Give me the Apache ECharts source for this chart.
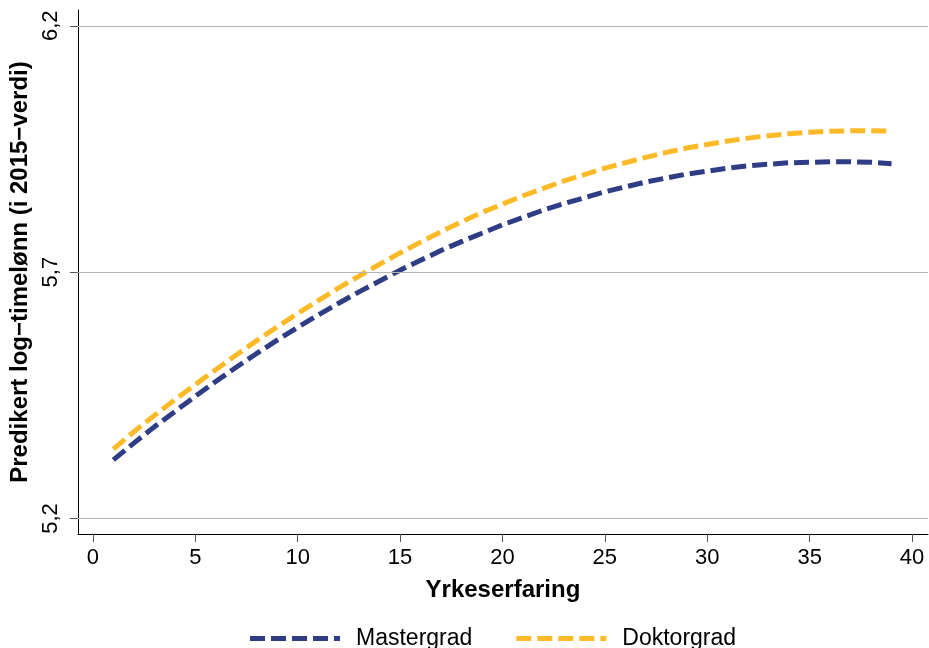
<!DOCTYPE html>
<html>
<head>
<meta charset="utf-8">
<script src="https://cdn.jsdelivr.net/npm/echarts@6/dist/echarts.min.js"></script>
<style>html,body{margin:0;padding:0;background:#fff}#c{width:929px;height:648px}</style>
</head>
<body>
<div id="c"></div>
<script>
const experience = [1,2,3,4,5,6,7,8,9,10,11,12,13,14,15,16,17,18,19,20,21,22,23,24,25,26,27,28,29,30,31,32,33,34,35,36,37,38,39];
const mastergrad = [5.319,5.353,5.386,5.417,5.448,5.478,5.507,5.535,5.562,5.588,5.613,5.637,5.660,5.682,5.704,5.724,5.744,5.762,5.779,5.796,5.811,5.826,5.839,5.851,5.863,5.873,5.883,5.891,5.899,5.905,5.911,5.916,5.919,5.922,5.923,5.924,5.924,5.923,5.920];
const doktorgrad = [5.341,5.376,5.409,5.441,5.472,5.502,5.532,5.561,5.589,5.616,5.642,5.668,5.692,5.716,5.739,5.761,5.782,5.802,5.821,5.838,5.855,5.870,5.885,5.898,5.911,5.922,5.933,5.943,5.952,5.959,5.966,5.972,5.977,5.981,5.984,5.986,5.987,5.987,5.986];
const xTicks = [0,5,10,15,20,25,30,35,40];
const yTicks = [5.2,5.7,6.2];
const seriesNames = ['Mastergrad','Doktorgrad'];
const colors = ['#2E3D86','#FDBA28'];

const font = 'Liberation Sans, Arial, Helvetica, sans-serif';
const dashIcon = 'path://M0,0h15v5h-15z M21,0h15v5h-15z M42,0h15v5h-15z M63,0h15v5h-15z M84,0h6v5h-6z';
const chart = echarts.init(document.getElementById('c'), null, {renderer:'canvas'});
const pair = (xs, ys) => xs.map((x,i)=>[x, ys[i]]);
chart.setOption({
  animation:false,
  backgroundColor:'#fff',
  grid:{left:77, right:1, top:10, bottom:114, containLabel:false},
  legend:{
    data:seriesNames.map(n=>({name:n, icon:dashIcon})),
    top:627, left:250, padding:0,
    itemWidth:90, itemHeight:5, itemGap:44,
    itemStyle:{borderWidth:0},
    textStyle:{fontFamily:font, fontSize:23, color:'#000', padding:[0,0,0,11]}
  },
  xAxis:{
    type:'value', min:-0.73, max:40.78,
    name:'Yrkeserfaring', nameLocation:'middle', nameGap:44,
    nameTextStyle:{fontFamily:font, fontSize:24, fontWeight:'bold', color:'#000'},
    axisLine:{show:true, onZero:false, lineStyle:{color:'#000', width:1}},
    axisTick:{show:true, length:8, customValues:xTicks, lineStyle:{color:'#555'}},
    axisLabel:{customValues:xTicks, margin:13, fontFamily:font, fontSize:22, color:'#000'},
    splitLine:{show:false}
  },
  yAxis:{
    type:'value', min:5.1686, max:6.232,
    name:'Predikert log\u2212timelønn (i 2015\u2212verdi)', nameLocation:'middle', nameGap:40,
    nameTextStyle:{fontFamily:font, fontSize:24, fontWeight:'bold', color:'#000'},
    axisLine:{show:true, onZero:false, lineStyle:{color:'#000', width:1}},
    axisTick:{show:true, length:8, customValues:yTicks, lineStyle:{color:'#555'}},
    axisLabel:{customValues:yTicks, rotate:90, margin:16, fontFamily:font, fontSize:22, color:'#000',
      formatter:v=>v.toFixed(1).replace('.',',')},
    splitLine:{show:false}
  },
  series:[
    {
      name:'grid', type:'line', data:[], silent:true, z:1,
      markLine:{silent:true, symbol:'none', label:{show:false}, animation:false,
        lineStyle:{color:'#b4b4b4', width:1, type:'solid'},
        data:yTicks.map(v=>({yAxis:v}))}
    },
    {
      name:seriesNames[0], type:'line', data:pair(experience, mastergrad), symbol:'none', smooth:false, z:3,
      color:colors[0], itemStyle:{color:colors[0]},
      lineStyle:{color:colors[0], width:5, type:[15,6], cap:'butt'}
    },
    {
      name:seriesNames[1], type:'line', data:pair(experience, doktorgrad), symbol:'none', smooth:false, z:3,
      color:colors[1], itemStyle:{color:colors[1]},
      lineStyle:{color:colors[1], width:5, type:[15,6], cap:'butt'}
    }
  ]
});
</script>
</body>
</html>
